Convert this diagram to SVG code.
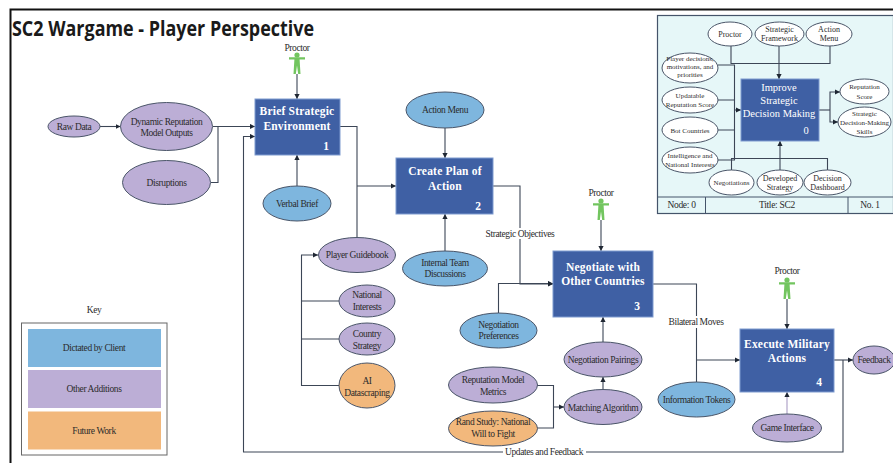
<svg xmlns="http://www.w3.org/2000/svg" width="893" height="463" viewBox="0 0 893 463">
<style>
text{font-family:"Liberation Serif","Times New Roman",serif;text-anchor:middle;fill:#2b2b2b;font-size:9.5px;letter-spacing:-.4px}
.e{stroke:#4a5568;stroke-width:1}
.b{fill:#7eb6de}.p{fill:#bcaed6}.o{fill:#f2b87c}.w{fill:#fff}
.box{fill:#3f60a4;stroke:#7f9bd0;stroke-width:1}
.bt{fill:#fff;font-weight:bold;font-size:11.5px;letter-spacing:.2px}
.n{fill:#fff;font-weight:bold;font-size:11.5px;letter-spacing:0}
.c{fill:none;stroke:#3c4656;stroke-width:1.1}
.a{marker-end:url(#ah)}
.s text,text.s{font-size:7px;letter-spacing:0}
.s text.t{font-size:8px}
.s text.f{font-size:9.5px;letter-spacing:-.3px}
.s text.i{fill:#fff;font-size:10.5px}
.fig{fill:#72c55f}
</style>
<defs>
<marker id="ah" markerUnits="userSpaceOnUse" markerWidth="6" markerHeight="6" refX="5" refY="3" orient="auto"><path d="M0,.4L5,3L0,5.6z" fill="#1f2733"/></marker>
<g id="person"><circle cx="0" cy="3" r="2.6"/><path d="M-8,5.2H8V7.4H2.6L3.5,22H1.2L0,13.5L-1.2,22H-3.500L-2.600,7.400H-8z"/></g>
</defs>
<rect width="893" height="463" fill="#fff"/>
<path d="M10.5,463V9.5H893" fill="none" stroke="#111" stroke-width="2"/>
<text id="title" x="12" y="36" textLength="302" lengthAdjust="spacingAndGlyphs" style="font-family:'Open Sans','Noto Sans',sans-serif;font-weight:700;font-size:21px;text-anchor:start;fill:#1a1a1a;letter-spacing:0">SC2 Wargame - Player Perspective</text>

<g id="connectors">
<path class="c a" d="M100,126.5H120.5"/>
<path class="c a" d="M213,126.5H255"/>
<path class="c" d="M211,182.5H218V126.5"/>
<path class="c a" d="M843,360V452H243.5V136.5H255"/>
<path class="c a" d="M834,360H853"/>
<path class="c a" d="M297,74V99"/>
<path class="c a" d="M297,186V155"/>
<path class="c" d="M340,126.5H357V237.5"/>
<path class="c a" d="M357,186H396"/>
<path class="c a" d="M445,128V158"/>
<path class="c a" d="M445,251V214"/>
<path class="c a" d="M493,186H520V284H553"/>
<path class="c a" d="M498.5,313V283.5H553"/>
<path class="c a" d="M601,220V251"/>
<path class="c a" d="M603,342V317"/>
<path class="c a" d="M603,390V377"/>
<path class="c" d="M537,385.5H553.5V428H537"/>
<path class="c a" d="M553.5,407H564"/>
<path class="c" d="M653,284H696.5V382"/>
<path class="c a" d="M696.5,360H740"/>
<path class="c a" d="M787,299V329"/>
<path class="c a" d="M787,415V392" style="stroke:#a99cc4"/>
<path class="c" d="M339.5,301H301.5M339.5,339H301.5"/>
<path class="c a" d="M339.5,385.5H301.5V255H318"/>
</g>

<g id="labels">
<rect x="484" y="228" width="72" height="11" fill="#fff"/>
<text x="520" y="236.5">Strategic Objectives</text>
<rect x="667" y="316" width="60" height="12" fill="#fff"/>
<text x="696" y="325">Bilateral Moves</text>
<rect x="503" y="447" width="83" height="11" fill="#fff"/>
<text x="544" y="455">Updates and Feedback</text>
</g>

<g id="raw-data"><ellipse class="e p" cx="74" cy="126.5" rx="26" ry="10.5"/><text x="74" y="130">Raw Data</text></g>
<g id="dynamic-reputation"><ellipse class="e p" cx="166.5" cy="126.5" rx="46" ry="24"/><text x="166.5" y="124.5">Dynamic Reputation</text><text x="166.5" y="136">Model Outputs</text></g>
<g id="disruptions"><ellipse class="e p" cx="166.5" cy="182.5" rx="44" ry="22"/><text x="166.5" y="186">Disruptions</text></g>
<g id="proctor-1"><text x="297" y="50.5">Proctor</text><use href="#person" class="fig" x="297" y="52"/></g>
<g id="brief"><rect class="box" x="255" y="99" width="85" height="56"/><text class="bt" x="297" y="115">Brief Strategic</text><text class="bt" x="297" y="130">Environment</text><text class="n" x="326" y="150">1</text></g>
<g id="verbal-brief"><ellipse class="e b" cx="297" cy="203.5" rx="34" ry="17.5"/><text x="297" y="206.5">Verbal Brief</text></g>
<g id="action-menu"><ellipse class="e b" cx="445" cy="110" rx="39" ry="18"/><text x="445" y="113">Action Menu</text></g>
<g id="create-plan"><rect class="box" x="396" y="158" width="97" height="56"/><text class="bt" x="445" y="175">Create Plan of</text><text class="bt" x="445" y="190">Action</text><text class="n" x="478" y="210">2</text></g>
<g id="internal-team"><ellipse class="e b" cx="445" cy="268.5" rx="42.5" ry="17.5"/><text x="445" y="265.5">Internal Team</text><text x="445" y="277">Discussions</text></g>
<g id="player-guidebook"><ellipse class="e p" cx="357" cy="255" rx="38.5" ry="17.5"/><text x="357" y="258">Player Guidebook</text></g>
<g id="national-interests"><ellipse class="e p" cx="367" cy="301" rx="28" ry="16"/><text x="367" y="298">National</text><text x="367" y="310">Interests</text></g>
<g id="country-strategy"><ellipse class="e p" cx="367" cy="339" rx="28" ry="16"/><text x="367" y="337">Country</text><text x="367" y="348.5">Strategy</text></g>
<g id="ai-datascraping"><ellipse class="e o" cx="367" cy="385.5" rx="28" ry="22.5"/><text x="367" y="384">AI</text><text x="367" y="395.5">Datascraping</text></g>
<g id="proctor-3"><text x="601" y="195.5">Proctor</text><use href="#person" class="fig" x="601" y="198"/></g>
<g id="negotiate"><rect class="box" x="553" y="251" width="100" height="66"/><text class="bt" x="603" y="271">Negotiate with</text><text class="bt" x="603" y="285">Other Countries</text><text class="n" x="637" y="310">3</text></g>
<g id="negotiation-preferences"><ellipse class="e b" cx="498.5" cy="330.5" rx="38.5" ry="17.5"/><text x="498.5" y="327.5">Negotiation</text><text x="498.5" y="339">Preferences</text></g>
<g id="negotiation-pairings"><ellipse class="e p" cx="603" cy="359.5" rx="39" ry="17.5"/><text x="603" y="363">Negotiation Pairings</text></g>
<g id="matching-algorithm"><ellipse class="e p" cx="603" cy="407" rx="39" ry="17.5"/><text x="603" y="410.5">Matching Algorithm</text></g>
<g id="reputation-metrics"><ellipse class="e p" cx="493" cy="385" rx="44.5" ry="18"/><text x="493" y="383">Reputation Model</text><text x="493" y="394.5">Metrics</text></g>
<g id="rand-study"><ellipse class="e o" cx="493" cy="428.5" rx="44.5" ry="17.5"/><text x="493" y="425">Rand Study: National</text><text x="493" y="437">Will to Fight</text></g>
<g id="information-tokens"><ellipse class="e b" cx="696.5" cy="399.5" rx="38.5" ry="17.5"/><text x="696.5" y="403">Information Tokens</text></g>
<g id="proctor-4"><text x="787" y="274">Proctor</text><use href="#person" class="fig" x="787" y="277"/></g>
<g id="execute"><rect class="box" x="740" y="329" width="94" height="63"/><text class="bt" x="787" y="348">Execute Military</text><text class="bt" x="787" y="362">Actions</text><text class="n" x="819" y="386">4</text></g>
<g id="game-interface"><ellipse class="e p" cx="787" cy="428" rx="34.5" ry="14"/><text x="787" y="431">Game Interface</text></g>
<g id="feedback"><ellipse class="e p" cx="874" cy="360" rx="21" ry="14"/><text x="874" y="363">Feedback</text></g>

<g id="key">
<text x="94" y="313">Key</text>
<rect x="21.5" y="323" width="145.5" height="132" fill="#fff" stroke="#666" stroke-width="1"/>
<rect x="28" y="329" width="133" height="38" class="b"/><text x="94" y="351">Dictated by Client</text>
<rect x="28" y="370" width="133" height="38" class="p"/><text x="94" y="392">Other Additions</text>
<rect x="28" y="411.5" width="133" height="38" class="o"/><text x="94" y="433.5">Future Work</text>
</g>

<g id="context-panel" class="s">
<rect x="657.5" y="15.5" width="236" height="198" fill="#e6f7f8" stroke="#44546a" stroke-width="1.2"/>
<path d="M657.5,197H893M705.5,197V213.5M848,197V213.5" fill="none" stroke="#44546a" stroke-width="1"/>
<g id="panel-connectors">
<path class="c" d="M731,46V63.5H830V46"/>
<path class="c a" d="M779,46V79"/>
<path class="c" d="M718,65H734.5V160H718M718,100H734.5M718,130H734.5"/>
<path class="c a" d="M734.5,110H741"/>
<path class="c" d="M731.5,170V158.5H827.5V170"/>
<path class="c a" d="M780,170V141"/>
<path class="c" d="M819,110H830"/>
<path class="c a" d="M830,110V92H840"/>
<path class="c a" d="M830,110V122H838"/>
</g>
<g id="p-proctor"><ellipse class="e w" cx="730" cy="34" rx="22" ry="12"/><text class="t" x="730" y="36.5">Proctor</text></g>
<g id="p-framework"><ellipse class="e w" cx="779.5" cy="34" rx="24.5" ry="12"/><text class="t" x="779.5" y="32">Strategic</text><text class="t" x="779.5" y="41">Framework</text></g>
<g id="p-action"><ellipse class="e w" cx="829" cy="34" rx="23" ry="12"/><text class="t" x="829" y="32">Action</text><text class="t" x="829" y="41">Menu</text></g>
<g id="p-player"><ellipse class="e w" cx="690" cy="68" rx="28" ry="15"/><text x="690" y="60.5">Player decisions,</text><text x="690" y="68.5">motivations, and</text><text x="690" y="77">priorities</text></g>
<g id="p-updatable"><ellipse class="e w" cx="690" cy="100" rx="28" ry="13"/><text x="690" y="98">Updatable</text><text x="690" y="107">Reputation Score</text></g>
<g id="p-bot"><ellipse class="e w" cx="690" cy="130" rx="28" ry="13"/><text x="690" y="132.5">Bot Countries</text></g>
<g id="p-intel"><ellipse class="e w" cx="690" cy="160" rx="28" ry="13"/><text x="690" y="157.5">Intelligence and</text><text x="690" y="166.5">National Interests</text></g>
<g id="p-negotiations"><ellipse class="e w" cx="731.5" cy="182.5" rx="22.5" ry="12.5"/><text x="731.5" y="185">Negotiations</text></g>
<g id="p-developed"><ellipse class="e w" cx="780" cy="182.5" rx="23" ry="12.5"/><text class="t" x="780" y="180.5">Developed</text><text class="t" x="780" y="190">Strategy</text></g>
<g id="p-dashboard"><ellipse class="e w" cx="827.5" cy="182.5" rx="23.5" ry="12.5"/><text class="t" x="827.5" y="180.5">Decision</text><text class="t" x="827.5" y="190">Dashboard</text></g>
<g id="p-score"><ellipse class="e w" cx="864.5" cy="91.5" rx="24.5" ry="12.5"/><text x="864.5" y="89">Reputation</text><text x="864.5" y="99">Score</text></g>
<g id="p-skills"><ellipse class="e w" cx="864.5" cy="122" rx="26.5" ry="15"/><text x="864.5" y="116">Strategic</text><text x="864.5" y="125">Decision-Making</text><text x="864.5" y="134">Skills</text></g>
<g id="p-improve"><rect class="box" x="741" y="79" width="78" height="62"/>
<text class="i" x="779" y="91">Improve</text><text class="i" x="779" y="104">Strategic</text><text class="i" x="779" y="117">Decision Making</text><text class="i" x="806" y="134">0</text></g>
<text class="f" x="681.5" y="208">Node: 0</text>
<text class="f" x="777" y="208">Title: SC2</text>
<text class="f" x="870" y="208">No. 1</text>
</g>
</svg>
